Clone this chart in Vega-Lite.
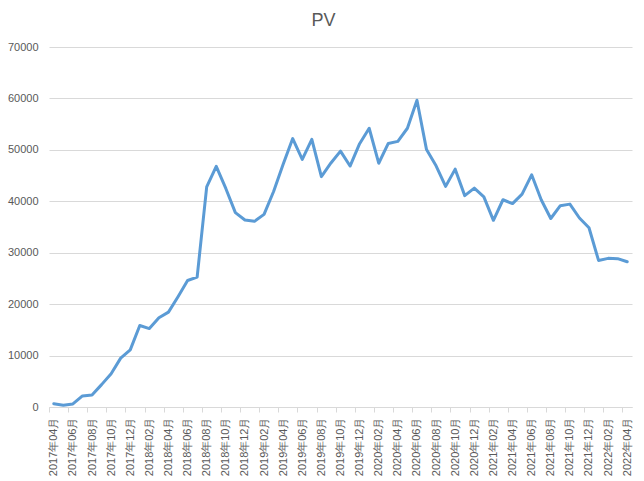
{
  "$schema": "https://vega.github.io/schema/vega-lite/v6.json",
  "autosize": {"type": "none"},
  "padding": {"left": 49, "top": 47, "right": 12, "bottom": 74},
  "width": 583,
  "height": 360,
  "background": "white",
  "title": {"text": "PV", "fontSize": 18, "fontWeight": "normal", "color": "#595959", "font": "Liberation Sans Narrow, Liberation Sans", "anchor": "middle", "offset": 11.5, "dx": -17},
  "data": {"values": [
    {"month": "2017年04月", "pv": 650},
    {"month": "2017年05月", "pv": 350},
    {"month": "2017年06月", "pv": 600},
    {"month": "2017年07月", "pv": 2150},
    {"month": "2017年08月", "pv": 2350},
    {"month": "2017年09月", "pv": 4350},
    {"month": "2017年10月", "pv": 6450},
    {"month": "2017年11月", "pv": 9500},
    {"month": "2017年12月", "pv": 11100},
    {"month": "2018年01月", "pv": 15850},
    {"month": "2018年02月", "pv": 15250},
    {"month": "2018年03月", "pv": 17350},
    {"month": "2018年04月", "pv": 18450},
    {"month": "2018年05月", "pv": 21450},
    {"month": "2018年06月", "pv": 24600},
    {"month": "2018年07月", "pv": 25250},
    {"month": "2018年08月", "pv": 42800},
    {"month": "2018年09月", "pv": 46800},
    {"month": "2018年10月", "pv": 42500},
    {"month": "2018年11月", "pv": 37800},
    {"month": "2018年12月", "pv": 36350},
    {"month": "2019年01月", "pv": 36100},
    {"month": "2019年02月", "pv": 37450},
    {"month": "2019年03月", "pv": 41900},
    {"month": "2019年04月", "pv": 47200},
    {"month": "2019年05月", "pv": 52200},
    {"month": "2019年06月", "pv": 48150},
    {"month": "2019年07月", "pv": 52050},
    {"month": "2019年08月", "pv": 44800},
    {"month": "2019年09月", "pv": 47450},
    {"month": "2019年10月", "pv": 49750},
    {"month": "2019年11月", "pv": 46850},
    {"month": "2019年12月", "pv": 51200},
    {"month": "2020年01月", "pv": 54200},
    {"month": "2020年02月", "pv": 47400},
    {"month": "2020年03月", "pv": 51250},
    {"month": "2020年04月", "pv": 51650},
    {"month": "2020年05月", "pv": 54200},
    {"month": "2020年06月", "pv": 59650},
    {"month": "2020年07月", "pv": 50050},
    {"month": "2020年08月", "pv": 46900},
    {"month": "2020年09月", "pv": 42900},
    {"month": "2020年10月", "pv": 46250},
    {"month": "2020年11月", "pv": 41100},
    {"month": "2020年12月", "pv": 42550},
    {"month": "2021年01月", "pv": 40850},
    {"month": "2021年02月", "pv": 36300},
    {"month": "2021年03月", "pv": 40300},
    {"month": "2021年04月", "pv": 39550},
    {"month": "2021年05月", "pv": 41400},
    {"month": "2021年06月", "pv": 45150},
    {"month": "2021年07月", "pv": 40300},
    {"month": "2021年08月", "pv": 36650},
    {"month": "2021年09月", "pv": 39150},
    {"month": "2021年10月", "pv": 39450},
    {"month": "2021年11月", "pv": 36750},
    {"month": "2021年12月", "pv": 34850},
    {"month": "2022年01月", "pv": 28500},
    {"month": "2022年02月", "pv": 28900},
    {"month": "2022年03月", "pv": 28850},
    {"month": "2022年04月", "pv": 28250}
  ]},
  "mark": {"type": "line", "color": "#5B9BD5", "strokeWidth": 3, "strokeJoin": "round", "strokeCap": "round"},
  "encoding": {
    "x": {
      "field": "month",
      "type": "ordinal",
      "sort": null,
      "scale": {"type": "point", "padding": 0.5},
      "axis": {
        "title": null,
        "values": ["2017年04月","2017年06月","2017年08月","2017年10月","2017年12月","2018年02月","2018年04月","2018年06月","2018年08月","2018年10月","2018年12月","2019年02月","2019年04月","2019年06月","2019年08月","2019年10月","2019年12月","2020年02月","2020年04月","2020年06月","2020年08月","2020年10月","2020年12月","2021年02月","2021年04月","2021年06月","2021年08月","2021年10月","2021年12月","2022年02月","2022年04月"],
        "labelAngle": -90,
        "labelOverlap": false,
        "labelFont": "Liberation Sans",
        "labelFontSize": 11,
        "labelColor": "#595959",
        "labelPadding": 5,
        "tickOffset": -4.78,
        "labelOffset": 4.78,
        "tickSize": 5,
        "tickColor": "#D9D9D9",
        "domainColor": "#D9D9D9",
        "grid": false
      }
    },
    "y": {
      "field": "pv",
      "type": "quantitative",
      "scale": {"domain": [0, 70000], "nice": false},
      "axis": {
        "title": null,
        "values": [0, 10000, 20000, 30000, 40000, 50000, 60000, 70000],
        "format": "d",
        "labelFont": "Liberation Sans",
        "labelFontSize": 11,
        "labelColor": "#595959",
        "labelPadding": 11,
        "ticks": false,
        "domain": false,
        "grid": true,
        "gridColor": "#D9D9D9",
        "gridWidth": 1
      }
    }
  },
  "config": {"view": {"stroke": null}}
}
